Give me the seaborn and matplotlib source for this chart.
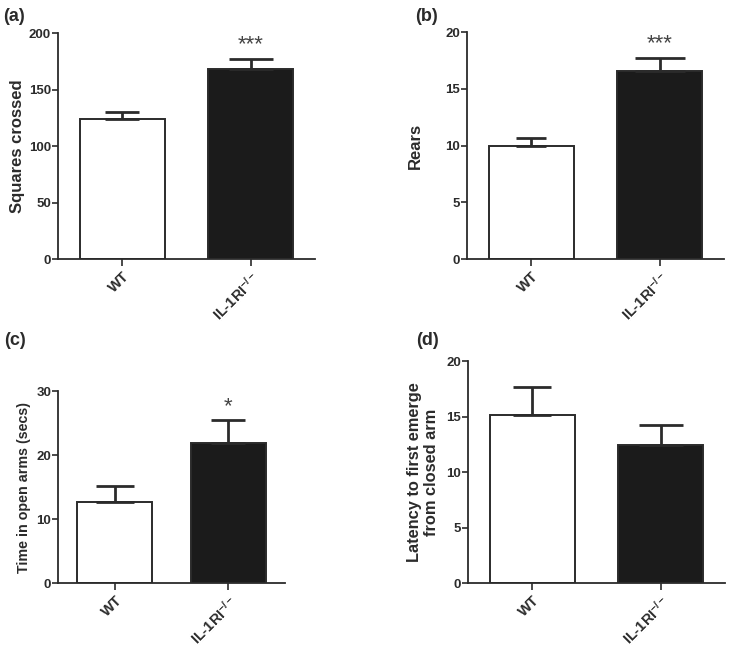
import numpy as np
import pandas as pd
import matplotlib
matplotlib.use("Agg")
import matplotlib.pyplot as plt
import seaborn as sns

groups = ["WT", "IL-1RI$^{-/-}$"]

squares_mean = [123.5, 168]
squares_sem = [6.5, 9]
rears_mean = [10.0, 16.6]
rears_sem = [0.7, 1.1]
open_arm_mean = [12.6, 21.8]
open_arm_sem = [2.5, 3.7]
latency_mean = [15.1, 12.4]
latency_sem = [2.6, 1.8]

sns.set_style("ticks")
plt.rcParams["font.family"] = ["Liberation Sans", "DejaVu Sans"]
plt.rcParams["font.weight"] = "bold"
plt.rcParams["mathtext.fontset"] = "custom"
plt.rcParams["mathtext.rm"] = "Liberation Sans:bold"
plt.rcParams["mathtext.default"] = "rm"

ink = "#2b2b2b"
fig = plt.figure(figsize=(7.3, 6.48), dpi=100)

panels = [
    # tag, mean, sem, ylabel, ymax, ticks, rect, star, star_y, caps, label size, pad, tag x, tag y
    ("(a)", squares_mean, squares_sem, "Squares crossed", 200, [0, 50, 100, 150, 200],
     [0.0795, 0.6003, 0.352, 0.3487], "***", 190, [12, 16], 12, 3, 0.004, 0.975),
    ("(b)", rears_mean, rears_sem, "Rears", 20, [0, 5, 10, 15, 20],
     [0.6397, 0.6003, 0.352, 0.3503], "***", 19.0, [11, 18], 12, 16, 0.568, 0.975),
    ("(c)", open_arm_mean, open_arm_sem, "Time in open arms (secs)", 30, [0, 10, 20, 30],
     [0.0795, 0.1003, 0.3110, 0.2963], "*", 27.6, [14, 12], 10.3, 4, 0.006, 0.475),
    ("(d)", latency_mean, latency_sem, "Latency to first emerge\nfrom closed arm", 20, [0, 5, 10, 15, 20],
     [0.641, 0.1003, 0.352, 0.3426], "", 0, [14, 16], 11.8, 5, 0.570, 0.475),
]

for tag, means, sems, ylab, ymax, ticks, rect, star, star_y, caps, lsize, pad, tx, ty in panels:
    ax = fig.add_axes(rect)
    df = pd.DataFrame({"group": groups, "value": means})
    sns.barplot(data=df, x="group", y="value", hue="group", palette=["white", "#1b1b1b"],
                edgecolor=ink, linewidth=1.4, width=0.66, legend=False, ax=ax)
    for i in range(2):
        ax.errorbar(i, means[i], yerr=[[0], [sems[i]]], fmt="none", ecolor=ink,
                    elinewidth=2, capsize=caps[i], capthick=2, zorder=3)
    if star:
        ax.text(1, star_y, star, ha="center", va="center", fontsize=16,
                color="#444444", fontweight="normal")
    ax.set_xlim(-0.5, 1.5)
    ax.set_ylim(0, ymax)
    ax.set_yticks(ticks)
    ax.set_xlabel("")
    ax.set_ylabel(ylab, fontsize=lsize, fontweight="bold", color=ink, labelpad=pad)
    ax.tick_params(axis="y", labelsize=9.5, colors=ink, length=4, width=1.2, pad=1)
    ax.tick_params(axis="x", labelsize=10.5, colors=ink, length=5, width=1.2, pad=2)
    for lbl in ax.get_xticklabels():
        lbl.set_rotation(45)
        lbl.set_ha("right")
        lbl.set_rotation_mode("anchor")
        lbl.set_fontweight("bold")
    for lbl in ax.get_yticklabels():
        lbl.set_fontweight("bold")
    sns.despine(ax=ax)
    for s in ["left", "bottom"]:
        ax.spines[s].set_color(ink)
        ax.spines[s].set_linewidth(1.3)
    fig.text(tx, ty, tag, fontsize=13, fontweight="bold", color=ink,
             ha="left", va="center")

fig.savefig("out.png", dpi=100, facecolor="white")
